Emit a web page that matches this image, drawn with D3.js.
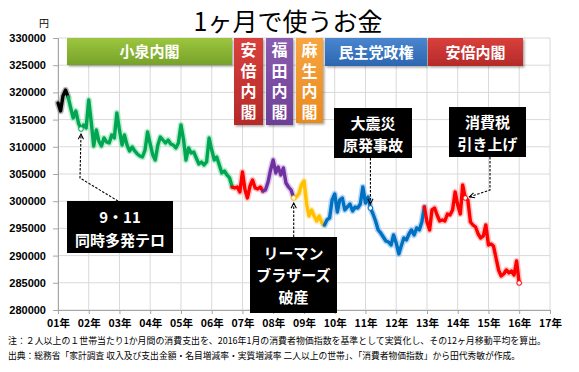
<!DOCTYPE html>
<html><head><meta charset="utf-8">
<script src="https://cdn.jsdelivr.net/npm/d3@7"></script>
<style>
html,body{margin:0;padding:0;background:#fff;}
svg{display:block;}
</style></head>
<body>
<svg id="chart" width="579" height="372"></svg>
<script>
// ---- DATA ----
const startYear = 2001; // series starts Jan 2001, monthly
const spending = [
318050,316580,319340,320440,319160,317130,315300,316580,314380,313270,314010,313460,
318600,314380,310150,313090,311070,310150,311620,310890,310700,312170,311620,316210,
313090,310330,312170,310330,309230,309970,309230,308680,308310,308130,309410,312720,
310520,308500,307580,310330,311800,311250,310700,311250,310520,310330,309780,310700,
314010,311250,307580,309780,308860,309050,307940,306840,307210,306660,307210,311620,
309410,307580,308130,306660,305190,305550,304820,304270,302610,302430,302610,301700,
305370,302060,300590,302800,303900,302430,302250,302610,301880,302060,303530,305740,
307580,305190,306290,304820,306110,303350,302610,302060,300590,300780,301330,302980,
303720,299490,297280,298390,297280,296360,297280,296000,295630,296550,296920,300220,
301330,298020,300220,300590,298390,298940,299490,298200,298940,298750,299490,302610,
299670,300780,298750,297650,296360,294710,294160,293420,292690,292500,291950,293790,
292320,290300,291770,293240,292870,293970,294710,293790,295080,294710,296180,298940,
296180,294710,298390,298750,297470,296360,296550,296360,297650,297470,298390,301700,
299310,297650,302980,300590,300220,296180,295630,295260,293970,293240,293610,295630,
291950,292140,291770,289560,287360,286260,286620,287360,286810,287170,286440,289010,
284970
];
// cabinets: name, first month index, last month index
const cabinetNames = ["森内閣","小泉内閣","安倍内閣","福田内閣","麻生内閣","民主党政権","安倍内閣"];
const cabinetStart = [0,4,68,80,92,104,143];
const cabinetEnd   = [4,68,80,92,104,143,180];
const yTicks = [280000,285000,290000,295000,300000,305000,310000,315000,320000,325000,330000];
const xYears = d3.range(2001,2018);
// events: label lines, month index
const eventLabels = [["9・11","同時多発テロ"],["リーマン","ブラザーズ","破産"],["大震災","原発事故"],["消費税","引き上げ"]];
const eventIndex = [9,92,122,159];

// ---- STYLES ----
const cabColors = ["#000000","#00A651","#FF0000","#7030A0","#FFC000","#0070C0","#FF0000"];
const glowColors = ["#888888","#7FE0A8","#FF9999","#C0A0E0","#FFE08A","#80B8F0","#FF9999"];

const svg = d3.select("#chart");
const L=58,R=550,T=38,B=310;
const x = d3.scaleTime().domain([new Date(2001,0,1),new Date(2017,0,1)]).range([L,R]);
const y = d3.scaleLinear().domain([280000,330000]).range([B,T]);
const date = i => new Date(startYear, i, 1);

// title
svg.append("text").attr("x",288).attr("y",31).attr("text-anchor","middle")
  .attr("font-family","'Noto Sans CJK JP'").attr("font-size",25).attr("fill","#000").text("1ヶ月で使うお金");
svg.append("text").attr("x",44).attr("y",27).attr("text-anchor","middle")
  .attr("font-family","'Noto Sans CJK JP'").attr("font-size",10).attr("fill","#000").text("円");

// grid
const g = svg.append("g");
g.selectAll(".hg").data(yTicks).join("line").attr("x1",L).attr("x2",R)
  .attr("y1",d=>y(d)).attr("y2",d=>y(d)).attr("stroke","#D9D9D9").attr("stroke-width",1);
g.selectAll(".vg").data(xYears).join("line").attr("y1",T).attr("y2",B)
  .attr("x1",d=>x(new Date(d,0,1))).attr("x2",d=>x(new Date(d,0,1))).attr("stroke","#D9D9D9").attr("stroke-width",1);

// axes
const yAxis = d3.axisLeft(y).tickValues(yTicks).tickFormat(d=>d).tickSize(5).tickPadding(7);
const ya = svg.append("g").attr("transform",`translate(${L},0)`).call(yAxis);
ya.select(".domain").attr("stroke","#A6A6A6");
ya.selectAll(".tick line").attr("stroke","#A6A6A6");
ya.selectAll("text").attr("font-family","'Liberation Sans',Arial").attr("font-weight","bold").attr("font-size",11).attr("fill","#000");

const xAxis = d3.axisBottom(x).tickValues(xYears.map(d=>new Date(d,0,1)))
  .tickFormat(d=>String(d.getFullYear()%100).padStart(2,"0")+"年").tickSize(4).tickPadding(6);
const xa = svg.append("g").attr("transform",`translate(0,${B})`).call(xAxis);
xa.select(".domain").attr("stroke","#A6A6A6");
xa.selectAll(".tick line").attr("stroke","#A6A6A6");
xa.selectAll("text").attr("font-family","'Noto Sans CJK JP'").attr("font-weight","bold").attr("font-size",10.5).attr("fill","#000");

// cabinet boxes
const defs = svg.append("defs");
function grad(id,c1,c2){
  const lg = defs.append("linearGradient").attr("id",id).attr("x1",0).attr("y1",0).attr("x2",0).attr("y2",1);
  lg.append("stop").attr("offset","0%").attr("stop-color",c1);
  lg.append("stop").attr("offset","100%").attr("stop-color",c2);
}
grad("gGreen","#9CC63E","#76A22A");
grad("gRed","#D9403C","#B52A2A");
grad("gPurple","#8A5DB0","#6C3F96");
grad("gOrange","#F7A541","#E88A1F");
grad("gBlue","#4A86CF","#2C66B0");
const shadow = defs.append("filter").attr("id","sh").attr("x","-10%").attr("y","-10%").attr("width","130%").attr("height","130%");
shadow.append("feDropShadow").attr("dx",1.5).attr("dy",1.5).attr("stdDeviation",1).attr("flood-color","#000").attr("flood-opacity",0.35);

const boxes = [
  {i:1, fill:"url(#gGreen)", vertical:false, x0:67, x1:232, y1:65},
  {i:2, fill:"url(#gRed)", vertical:true, x0:234, x1:263, y1:125},
  {i:3, fill:"url(#gPurple)", vertical:true, x0:266, x1:293, y1:125},
  {i:4, fill:"url(#gOrange)", vertical:true, x0:296, x1:323, y1:123},
  {i:5, fill:"url(#gBlue)", vertical:false, x0:325, x1:427, y1:66},
  {i:6, fill:"url(#gRed)", vertical:false, x0:428, x1:523, y1:66}
];
boxes.forEach(b=>{
  svg.append("rect").attr("x",b.x0).attr("y",T).attr("width",b.x1-b.x0).attr("height",b.y1-T)
    .attr("fill",b.fill).attr("filter","url(#sh)");
  const name = cabinetNames[b.i];
  if(!b.vertical){
    svg.append("text").attr("x",(b.x0+b.x1)/2).attr("y",(T+b.y1)/2+5.5).attr("text-anchor","middle")
      .attr("font-family","'Noto Sans CJK JP'").attr("font-weight","bold").attr("font-size",15)
      .attr("fill","#fff").text(name);
  } else {
    svg.append("text").attr("x",(b.x0+b.x1)/2).attr("y",T+4)
      .style("writing-mode","vertical-rl").style("text-orientation","upright")
      .attr("letter-spacing",4.5)
      .attr("font-family","'Noto Sans CJK JP'").attr("font-weight","bold").attr("font-size",16)
      .attr("fill","#fff").text(name);
  }
});

// line segments
const line = d3.line().x(d=>x(date(d.i))).y(d=>y(d.v)).curve(d3.curveLinear);
const pts = spending.map((v,i)=>({i,v}));
const lineG = svg.append("g");
cabinetNames.forEach((n,k)=>{
  const seg = pts.slice(cabinetStart[k], cabinetEnd[k]+1);
  lineG.append("path").attr("d",line(seg)).attr("fill","none").attr("stroke",glowColors[k])
    .attr("stroke-width",6.5).attr("stroke-opacity",0.55).attr("stroke-linejoin","round").attr("stroke-linecap","round");
});
cabinetNames.forEach((n,k)=>{
  const seg = pts.slice(cabinetStart[k], cabinetEnd[k]+1);
  lineG.append("path").attr("d",line(seg)).attr("fill","none").attr("stroke",cabColors[k])
    .attr("stroke-width",3.4).attr("stroke-linejoin","round").attr("stroke-linecap","round");
});

// marker points
const colorAt = i => { let c=0; cabinetStart.forEach((s,k)=>{ if(i>=s) c=k; }); return cabColors[c]; };
[...eventIndex, spending.length-1].forEach(i=>{
  svg.append("circle").attr("cx",x(date(i))).attr("cy",y(spending[i])).attr("r",2.3)
    .attr("fill","#fff").attr("stroke",colorAt(i)).attr("stroke-width",1);
});

// annotation boxes
defs.append("marker").attr("id","arr").attr("viewBox","0 0 10 10").attr("refX",9).attr("refY",5)
  .attr("markerWidth",6).attr("markerHeight",6).attr("orient","auto-start-reverse")
  .append("path").attr("d","M1,1 L9,5 L1,9").attr("fill","none").attr("stroke","#000").attr("stroke-width",1.6);

const annBoxes = [
  {x0:67,x1:173,y0:201,y1:253, ty:[223,246], arrow:(px,py)=>[[118,201],[80,178],[px,py+5]]},
  {x0:250,x1:337,y0:237,y1:313, ty:[259,281,303], arrow:(px,py)=>[[px,237],[px,py+5]]},
  {x0:334,x1:412,y0:108,y1:158, ty:[129,151], arrow:(px,py)=>[[px,158],[px,py-4]]},
  {x0:449,x1:526,y0:107,y1:157, ty:[128,150], arrow:(px,py)=>[[490,157],[490,190],[px+4,py-1]]}
];
annBoxes.forEach((b,k)=>{
  const i = eventIndex[k];
  const px = x(date(i)), py = y(spending[i]);
  svg.append("rect").attr("x",b.x0).attr("y",b.y0).attr("width",b.x1-b.x0).attr("height",b.y1-b.y0).attr("fill","#000");
  eventLabels[k].forEach((t,j)=>{
    svg.append("text").attr("x",(b.x0+b.x1)/2).attr("y",b.ty[j]).attr("text-anchor","middle")
      .attr("font-family","'Noto Sans CJK JP'").attr("font-weight","bold").attr("font-size",15)
      .attr("fill","#fff").text(t);
  });
  const ap = b.arrow(px,py);
  svg.append("path").attr("d",d3.line()(ap)).attr("fill","none").attr("stroke","#000")
    .attr("stroke-width",1.1).attr("stroke-dasharray","2.5,1.5").attr("marker-end","url(#arr)");
});

// footnotes
const notes = ["注：２人以上の１世帯当たり1か月間の消費支出を、2016年1月の消費者物価指数を基準として実質化し、その12ヶ月移動平均を算出。",
 "出典：総務省「家計調査 収入及び支出金額・名目増減率・実質増減率 二人以上の世帯」、「消費者物価指数」から田代秀敏が作成。"];
const noteLen = [538, 512];
notes.forEach((t,j)=>{
  svg.append("text").attr("x",8).attr("y",344+j*14.5).attr("font-family","'Noto Sans CJK JP'")
    .attr("font-size",9).attr("textLength",noteLen[j]).attr("lengthAdjust","spacingAndGlyphs")
    .attr("fill","#000").text(t);
});
</script>
</body></html>
